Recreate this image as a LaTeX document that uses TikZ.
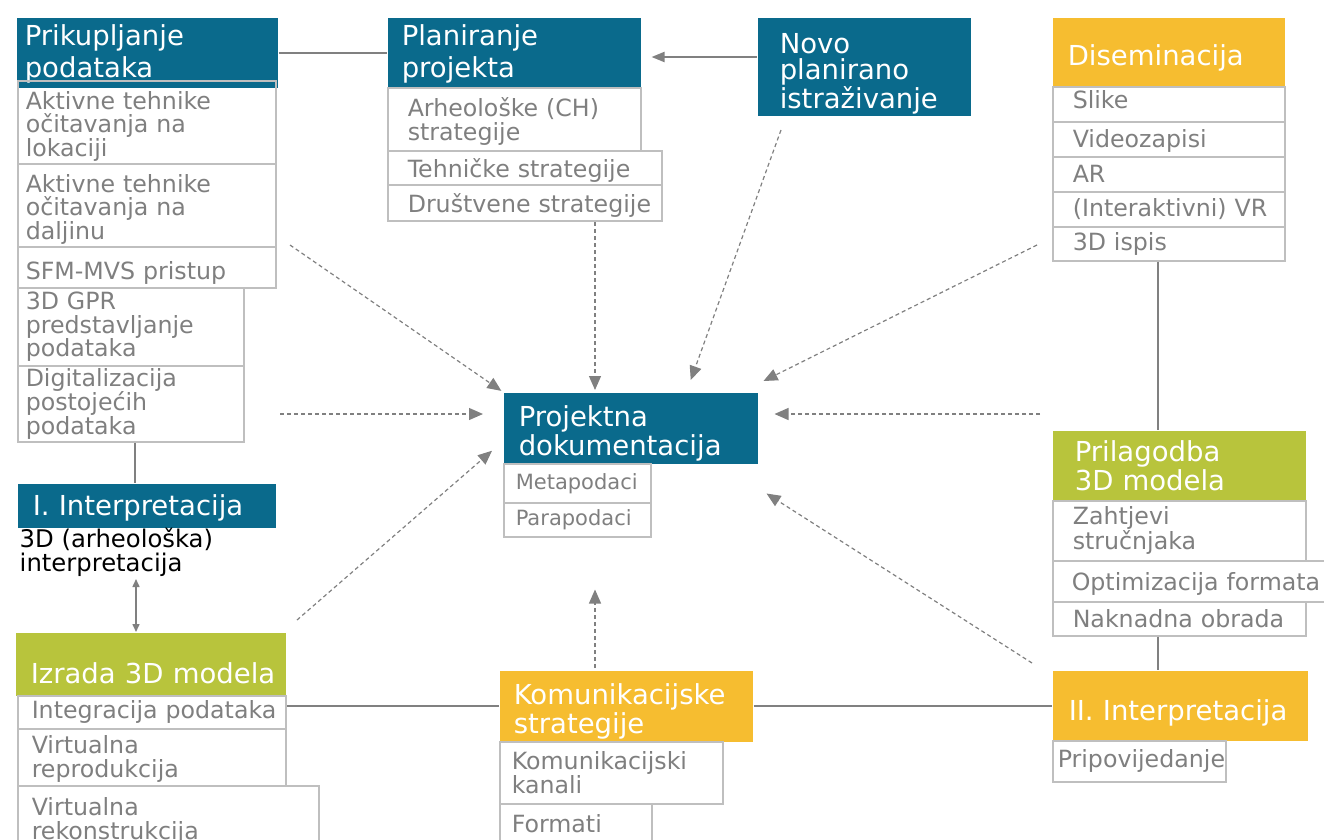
\documentclass[tikz,border=0pt]{standalone}
\usepackage{fontspec}
\setmainfont{DejaVu Sans}
\usetikzlibrary{arrows.meta,calc}

\definecolor{docblue}{RGB}{10,106,140}
\definecolor{modgreen}{RGB}{184,196,60}
\definecolor{disyellow}{RGB}{246,189,48}
\definecolor{itemgray}{RGB}{127,127,127}
\definecolor{framegray}{RGB}{191,191,191}
\definecolor{linegray}{RGB}{128,128,128}

\newcommand{\hdrsize}{\fontsize{27.5}{29}\selectfont}
\newcommand{\hdrwide}{\fontsize{27.5}{32}\selectfont}
\newcommand{\itmsize}{\fontsize{23.7}{23.6}\selectfont}
\newcommand{\metasize}{\fontsize{21}{22}\selectfont}
\newcommand{\notesize}{\fontsize{24.3}{24}\selectfont}

\tikzset{every picture/.style={line width=1.5pt}}
\tikzset{
  cell/.style n args={3}{text width=#1, inner xsep=#2, minimum height=#3},
  hdr/.style={anchor=north west, fill=#1, text=white, font=\hdrsize, align=left, inner ysep=0pt},
  itm/.style={anchor=north west, draw=framegray, line width=1.5pt, text=itemgray, font=\itmsize, align=left, inner ysep=0pt},
  conn/.style={draw=linegray, line width=2pt},
  solidarr/.style={draw=linegray, line width=2pt, -{Triangle[length=13pt,width=10pt]}},
  dblarr/.style={draw=linegray, line width=1.5pt, {Triangle[length=8pt,width=7pt]}-{Triangle[length=8pt,width=7pt]}},
  dasharr/.style={draw=linegray, line width=1.2pt, dash pattern=on 4pt off 3pt, -{Triangle[length=14pt,width=12pt]}}
}

\begin{document}
\begin{tikzpicture}[x=1pt,y=1pt,yscale=-1,xscale=1]
	\useasboundingbox (0,0) rectangle (1324,839);

	% Prikupljanje podataka
	\node[hdr=docblue, font=\hdrwide, cell={245pt}{8pt}{70pt}, text height=23pt] (prik) at (16,17) {Prikupljanje\\podataka};
	\node[itm, cell={242pt}{8pt}{83pt}, text height=26pt] (a1) at (17,80) {Aktivne tehnike\\očitavanja na\\lokaciji};
	\node[itm, cell={242pt}{8pt}{83pt}, text height=26pt] (a2) at (17,163) {Aktivne tehnike\\očitavanja na\\daljinu};
	\node[itm, cell={242pt}{8pt}{41pt}, text height=29pt] (a3) at (17,246) {SFM-MVS pristup};
	\node[itm, cell={210pt}{8pt}{78pt}] (a4) at (17,287) {3D GPR\\predstavljanje\\podataka};
	\node[itm, cell={210pt}{8pt}{76pt}] (a5) at (17,365) {Digitalizacija\\postojećih\\podataka};

	% I. Interpretacija
	\node[hdr=docblue, cell={228pt}{15pt}{44pt}, text height=26pt] (int1) at (17,483) {I. Interpretacija};
	\node[anchor=north west, font=\notesize, align=left, inner sep=2pt] (int1txt) at (17,525) {3D (arheološka)\\interpretacija};

	% Izrada 3D modela
	\node[hdr=modgreen, cell={240pt}{15pt}{63pt}, text height=39pt] (izr) at (15,632) {\mbox{Izrada 3D modela}};
	\node[itm, cell={240pt}{14pt}{33pt}] (iz1) at (17,695) {\mbox{Integracija podataka}};
	\node[itm, cell={240pt}{14pt}{57pt}, text height=21pt] (iz2) at (17,728) {Virtualna\\reprodukcija};
	\node[itm, cell={273pt}{14pt}{70pt}] (iz3) at (17,785) {Virtualna\\rekonstrukcija};

	% Planiranje projekta
	\node[hdr=docblue, font=\hdrwide, cell={225pt}{14pt}{70pt}, text height=23pt] (plan) at (387,17) {Planiranje\\projekta};
	\node[itm, cell={213pt}{20pt}{63pt}, text height=23pt] (p1) at (387,87) {Arheološke (CH)\\strategije};
	\node[itm, cell={234pt}{20pt}{34pt}, text height=24pt] (p2) at (387,150) {\mbox{Tehničke strategije}};
	\node[itm, cell={234pt}{20pt}{36pt}, text height=24pt] (p3) at (387,184) {\mbox{Društvene strategije}};

	% Novo planirano istrazivanje
	\node[hdr=docblue, font=\fontsize{27.5}{26.5}\selectfont, cell={169pt}{22pt}{98pt}, text height=34pt] (novo) at (757,17) {Novo\\planirano\\istraživanje};

	% Diseminacija
	\node[hdr=disyellow, cell={202pt}{15pt}{69pt}, text height=33pt] (dis) at (1052,17) {Diseminacija};
	\node[itm, cell={192pt}{20pt}{35pt}, text height=8pt] (d1) at (1052,86) {Slike};
	\node[itm, cell={192pt}{20pt}{35pt}, text height=22pt] (d2) at (1052,121) {Videozapisi};
	\node[itm, cell={192pt}{20pt}{35pt}] (d3) at (1052,156) {AR};
	\node[itm, cell={192pt}{20pt}{35pt}] (d4) at (1052,191) {\mbox{(Interaktivni) VR}};
	\node[itm, cell={192pt}{20pt}{34pt}] (d5) at (1052,226) {3D ispis};

	% Projektna dokumentacija
	\node[hdr=docblue, cell={224pt}{15pt}{71pt}, text height=31pt] (proj) at (503,392) {Projektna\\dokumentacija};
	\node[itm, font=\metasize, cell={123pt}{12pt}{39pt}] (m1) at (503,463) {Metapodaci};
	\node[itm, font=\metasize, cell={123pt}{12pt}{34pt}] (m2) at (503,502) {Parapodaci};

	% Prilagodba 3D modela
	\node[hdr=modgreen, cell={209pt}{22pt}{70pt}] (pri) at (1052,430) {Prilagodba\\3D modela};
	\node[itm, cell={213pt}{20pt}{60pt}] (r1) at (1052,500) {Zahtjevi\\stručnjaka};
	\node[itm, cell={234pt}{19pt}{41pt}, text height=23pt] (r2) at (1052,560) {\mbox{Optimizacija formata}};
	\node[itm, cell={213pt}{20pt}{34pt}] (r3) at (1052,601) {Naknadna obrada};

	% II. Interpretacija
	\node[hdr=disyellow, cell={223pt}{16pt}{70pt}, text height=35pt] (ii) at (1052,670) {II. Interpretacija};
	\node[itm, cell={163pt}{5pt}{41pt}] (ii1) at (1052,740) {Pripovijedanje};

	% Komunikacijske strategije
	\node[hdr=disyellow, cell={225pt}{14pt}{71pt}, text height=31pt] (kom) at (499,670) {Komunikacijske\\strategije};
	\node[itm, cell={199pt}{12pt}{62pt}] (k1) at (499,741) {Komunikacijski\\kanali};
	\node[itm, cell={128pt}{12pt}{40pt}] (k2) at (499,803) {Formati};

	% solid links
	\draw[conn] (prik.east) -- (plan.west);
	\draw[conn] (a5.south -| 135,0) -- (int1.north -| 135,0);
	\draw[dblarr] (int1txt.south -| 136,0) -- (izr.north -| 136,0);
	\draw[conn] (kom.west) -- (kom.west -| iz1.east);
	\draw[conn] (kom.east) -- (kom.east -| ii.west);
	\draw[conn] (d5.south -| 1158,0) -- (pri.north -| 1158,0);
	\draw[conn] (r3.south -| 1158,0) -- (ii.north -| 1158,0);
	\draw[solidarr, shorten >=10pt] (novo.west |- 0,57) -- (plan.east |- 0,57);

	% dashed arrows into the documentation
	\coordinate (s1) at (290,245);
	\coordinate (s2) at (280,414);
	\coordinate (s3) at (297,620);
	\coordinate (s4) at (595,222);
	\coordinate (s5) at (781,130);
	\coordinate (s6) at (1037,245);
	\coordinate (s7) at (1040,414);
	\coordinate (s8) at (1032,663);
	\coordinate (s9) at (595,668);
	\draw[dasharr, shorten >=2pt] (s1) -- (proj.north west);
	\draw[dasharr, shorten >=20pt] (s2) -- (s2 -| proj.west);
	\draw[dasharr] (s3) -- ($(proj.west)+(-11,22.5)$);
	\draw[dasharr, shorten >=2pt] (s4) -- (s4 |- proj.north);
	\draw[dasharr] (s5) -- ($(proj.north)+(60,-12)$);
	\draw[dasharr] (s6) -- ($(proj.north east)+(5,-11)$);
	\draw[dasharr, shorten >=16pt] (s7) -- (s7 -| proj.east);
	\draw[dasharr] (s8) -- ($(proj.south east)+(8,29)$);
	\draw[dasharr, shorten >=52pt] (s9) -- (s9 |- m2.south);

\end{tikzpicture}
\end{document}
